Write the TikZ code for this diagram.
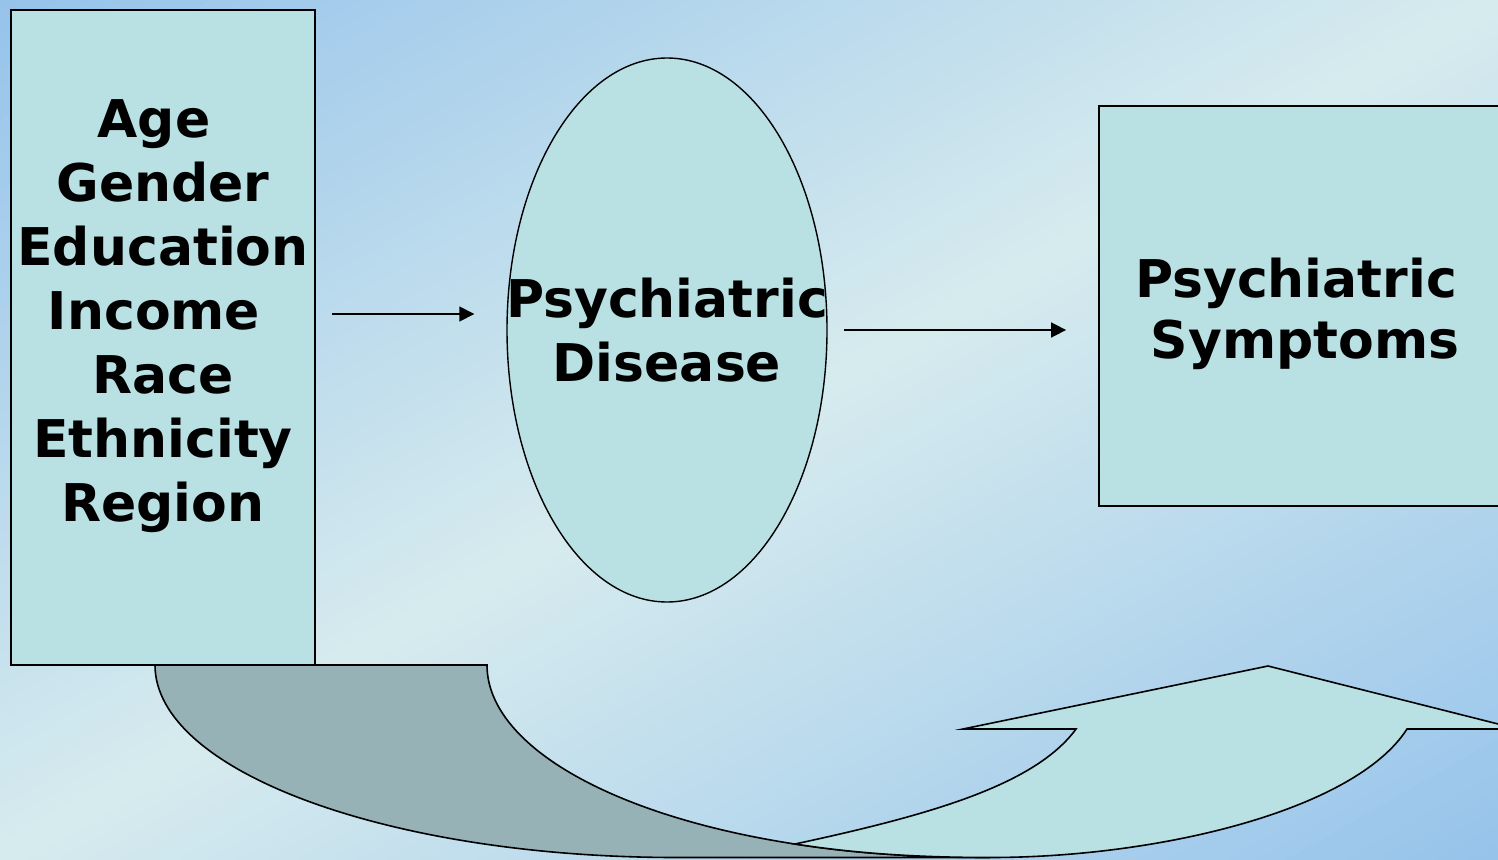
\documentclass[tikz,border=0pt]{standalone}
\usepackage{fontspec}
\setmainfont{DejaVu Sans}
\usetikzlibrary{shapes.geometric,arrows.meta,calc}
\definecolor{bgblue}{RGB}{150,195,235}
\definecolor{bglight}{RGB}{214,235,238}
\definecolor{boxfill}{RGB}{185,224,227}
\definecolor{darkfill}{RGB}{150,178,182}
\begin{document}
\begin{tikzpicture}[x=1pt,y=-1pt,
  bigtext/.style={font=\fontsize{52}{64}\selectfont\bfseries, align=center},
  boxshape/.style={rectangle, draw=black, line width=1.8pt, fill=boxfill, inner sep=0pt},
  ovalshape/.style={ellipse, draw=black, line width=1.4pt, fill=boxfill, inner sep=0pt},
  bandline/.style={draw=black, line width=1.6pt, line join=miter},
  conn/.style={line width=1.6pt, -{Triangle[length=15pt,width=15pt]}}]
\useasboundingbox (0,0) rectangle (1498,859);
% background: diagonal gradient, blue corners (top-left, bottom-right), light along the anti-diagonal
\begin{scope}
\clip (0,0) rectangle (1498,859);
\foreach \i in {0,...,99}{
  \pgfmathsetmacro\sa{\i/50}
  \pgfmathsetmacro\sb{(\i+1)/50+0.006}
  \pgfmathsetmacro\t{abs((\i+0.5)/50-1)*100}
  \fill[bgblue!\t!bglight] ({\sa*1498},0) -- ({\sb*1498},0) -- (0,{\sb*859}) -- (0,{\sa*859}) -- cycle;
}
\end{scope}
% curved up arrow: back (dark) band
\path[bandline, fill=darkfill] (155,665) -- (487,665)
  arc[start angle=180, end angle=111.2, x radius=482, y radius=192]
  .. controls (840,851) and (900,857.5) .. (990,857.5)
  -- (677,857.5)
  arc[start angle=90, end angle=180, x radius=522, y radius=192.5] -- cycle;
% curved up arrow: front (light) band with head
\path[bandline, fill=boxfill] (795,844)
  .. controls (930,815) and (1035,785) .. (1076,729)
  -- (963,729) -- (1268,666) -- (1518,729) -- (1407,729)
  .. controls (1355,810) and (1160,857.5) .. (990,857.5)
  .. controls (900,857.5) and (840,851) .. (795,844) -- cycle;
% nodes
\node[boxshape, bigtext, minimum width=304pt, minimum height=655pt] (factors) at (163,337.5)
  {Age\kern18pt\\Gender\\Education\\Income\kern18pt\\Race\\Ethnicity\\Region\rule[-53pt]{0pt}{53pt}};
\node[ovalshape, bigtext, minimum width=320pt, minimum height=544pt] (disease) at (667,330)
  {\makebox[0pt]{Psychiatric}\\\makebox[0pt]{Disease}};
\node[boxshape, bigtext, minimum width=412pt, minimum height=400pt] (symptoms) at (1305,306)
  {\rule{0pt}{56pt}Psychiatric\kern18pt\\[-3pt]Symptoms};
% connectors
\draw[conn] ($(factors.east)+(16,-23.5)$) -- ($(disease.west)+(-32,-16)$);
\draw[conn] ($(disease.east)+(16,0)$) -- ($(symptoms.west)+(-32,24)$);
\end{tikzpicture}
\end{document}
